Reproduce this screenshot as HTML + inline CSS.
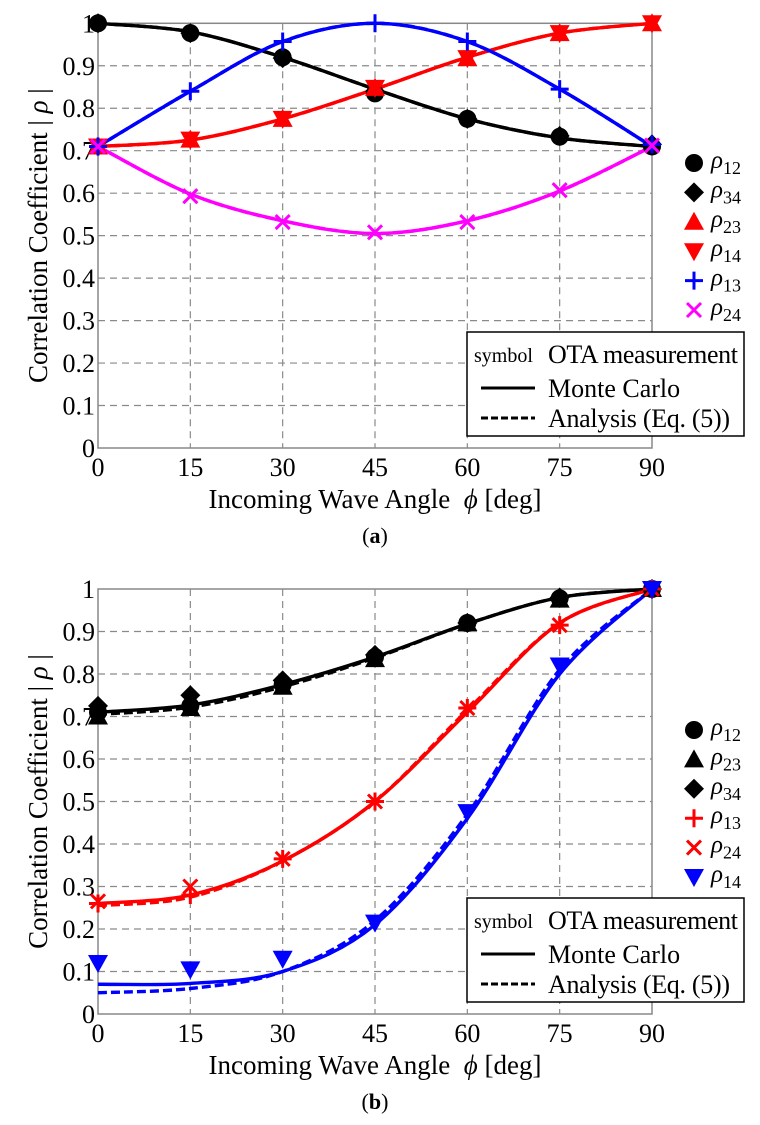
<!DOCTYPE html>
<html><head><meta charset="utf-8">
<style>
body{margin:0;background:#fff;}
svg{display:block;font-family:"Liberation Serif",serif;}
</style></head>
<body>
<svg id="fig" width="760" height="1125" viewBox="0 0 760 1125" xmlns="http://www.w3.org/2000/svg"></svg>
<script>
// ---------- data ----------
const angles = [0, 15, 30, 45, 60, 75, 90];
const yTicks = [0, 0.1, 0.2, 0.3, 0.4, 0.5, 0.6, 0.7, 0.8, 0.9, 1];
const yTickLabels = ["0","0.1","0.2","0.3","0.4","0.5","0.6","0.7","0.8","0.9","1"];
const xTickLabels = ["0","15","30","45","60","75","90"];

// panel (a)
const aRho12 = [1.0, 0.977, 0.92, 0.835, 0.775, 0.733, 0.71];
const aRho34 = [1.0, 0.977, 0.918, 0.84, 0.775, 0.735, 0.715];
const aRho23 = [0.71, 0.726, 0.775, 0.848, 0.918, 0.977, 1.0];
const aRho14 = [0.71, 0.726, 0.775, 0.848, 0.918, 0.977, 1.0];
const aRho13 = [0.71, 0.84, 0.957, 1.0, 0.957, 0.845, 0.715];
const aRho24 = [0.71, 0.593, 0.532, 0.508, 0.532, 0.607, 0.712];
const aMcBlack = [1.0, 0.98, 0.92, 0.845, 0.775, 0.73, 0.71];
const aMcRed = [0.71, 0.725, 0.775, 0.845, 0.92, 0.977, 1.0];
const aMcBlue = [0.71, 0.84, 0.957, 1.0, 0.957, 0.845, 0.71];
const aMcMag = [0.71, 0.598, 0.535, 0.505, 0.535, 0.605, 0.71];

// panel (b)
const bRho12 = [0.71, 0.725, 0.775, 0.84, 0.92, 0.978, 1.0];
const bRho23 = [0.70, 0.72, 0.77, 0.835, 0.92, 0.975, 1.0];
const bRho34 = [0.725, 0.75, 0.785, 0.845, 0.92, 0.98, 1.0];
const bRho13 = [0.26, 0.28, 0.365, 0.50, 0.72, 0.915, 1.0];
const bRho24 = [0.265, 0.30, 0.365, 0.50, 0.72, 0.915, 1.0];
const bRho14 = [0.12, 0.105, 0.13, 0.215, 0.475, 0.82, 1.0];
const bMcBlack = [0.71, 0.727, 0.775, 0.84, 0.918, 0.98, 1.0];
const bAnBlack = [0.705, 0.722, 0.77, 0.838, 0.918, 0.98, 1.0];
const bMcRed = [0.26, 0.28, 0.36, 0.50, 0.71, 0.92, 1.0];
const bAnRed = [0.255, 0.275, 0.36, 0.50, 0.715, 0.92, 1.0];
const bMcBlue = [0.07, 0.072, 0.10, 0.21, 0.46, 0.80, 1.0];
const bAnBlue = [0.05, 0.06, 0.10, 0.22, 0.47, 0.81, 1.0];

// ---------- drawing ----------
const NS = "http://www.w3.org/2000/svg";
const svg = document.getElementById("fig");
function mk(tag, attrs, parent) {
  const e = document.createElementNS(NS, tag);
  for (const k in attrs) e.setAttribute(k, attrs[k]);
  (parent || svg).appendChild(e);
  return e;
}
function txt(x, y, s, size, anchor, parent) {
  const t = mk("text", {x: x, y: y, "font-size": size, "text-anchor": anchor || "middle"}, parent);
  t.textContent = s;
  return t;
}
function rho(x, y, sub, parent) {
  const t = mk("text", {x: x, y: y, "font-size": 25}, parent);
  const a = document.createElementNS(NS, "tspan");
  a.setAttribute("font-style", "italic");
  a.textContent = "ρ";
  t.appendChild(a);
  const b = document.createElementNS(NS, "tspan");
  b.setAttribute("font-size", "18");
  b.setAttribute("dy", "6");
  b.textContent = sub;
  t.appendChild(b);
  return t;
}
function marker(type, cx, cy, color, g) {
  let e;
  if (type === "circle") e = mk("circle", {cx: cx, cy: cy, r: 9, fill: color}, g);
  else if (type === "diamond") e = mk("polygon", {points: `${cx},${cy-10} ${cx+10},${cy} ${cx},${cy+10} ${cx-10},${cy}`, fill: color}, g);
  else if (type === "up") e = mk("polygon", {points: `${cx},${cy-10} ${cx+10},${cy+8} ${cx-10},${cy+8}`, fill: color}, g);
  else if (type === "down") e = mk("polygon", {points: `${cx},${cy+10} ${cx+10},${cy-8} ${cx-10},${cy-8}`, fill: color}, g);
  else if (type === "plus") e = mk("path", {d: `M${cx-9},${cy}H${cx+9}M${cx},${cy-9}V${cy+9}`, stroke: color, "stroke-width": 3}, g);
  else e = mk("path", {d: `M${cx-7},${cy-7}L${cx+7},${cy+7}M${cx+7},${cy-7}L${cx-7},${cy+7}`, stroke: color, "stroke-width": 3}, g);
  return e;
}
function smoothPath(pts) {
  let d = `M${pts[0][0]},${pts[0][1]}`;
  for (let i = 0; i < pts.length - 1; i++) {
    const p0 = pts[Math.max(0, i-1)], p1 = pts[i], p2 = pts[i+1], p3 = pts[Math.min(pts.length-1, i+2)];
    const c1x = p1[0] + (p2[0]-p0[0])/6, c1y = p1[1] + (p2[1]-p0[1])/6;
    const c2x = p2[0] - (p3[0]-p1[0])/6, c2y = p2[1] - (p3[1]-p1[1])/6;
    d += ` C${c1x},${c1y} ${c2x},${c2y} ${p2[0]},${p2[1]}`;
  }
  return d;
}

function panel(cfg) {
  const X0 = 98, X1 = 652, Ytop = cfg.top, Ybot = cfg.bot;
  const xs = v => X0 + (v / 90) * (X1 - X0);
  const ys = v => Ybot - v * (Ybot - Ytop);
  const g = mk("g", {});
  
  
  yTicks.forEach((t, i) => {
    if (i > 0 && i < yTicks.length - 1) {
      const l = mk("line", {x1: X0, x2: X1, y1: ys(t), y2: ys(t), stroke: "#8a8a8a", "stroke-width": 1.2, "stroke-dasharray": "7,5"}, g);
      
      
    }
    const tl = txt(X0 - 3, ys(t) + 9, yTickLabels[i], 26, "end", g);
    
    
  });
  angles.forEach((a, i) => {
    if (i > 0 && i < angles.length - 1) {
      const l = mk("line", {x1: xs(a), x2: xs(a), y1: Ytop, y2: Ybot, stroke: "#8a8a8a", "stroke-width": 1.2, "stroke-dasharray": "7,5"}, g);
      
      
    }
    const tl = txt(xs(a), Ybot + 28, xTickLabels[i], 26, "middle", g);
    
    
  });
  const box = mk("rect", {x: X0, y: Ytop, width: X1 - X0, height: Ybot - Ytop, fill: "none", stroke: "#888", "stroke-width": 1.5}, g);
  
  
  cfg.curves.forEach(c => {
    const pts = angles.map((a, i) => [xs(a), ys(c.data[i])]);
    const p = mk("path", {d: smoothPath(pts), fill: "none", stroke: c.color, "stroke-width": 3.4}, g);
    if (c.dash) p.setAttribute("stroke-dasharray", "9,4");
    
    
  });
  cfg.series.forEach(s => {
    s.data.forEach((v, i) => {
      const m = marker(s.type, xs(angles[i]), ys(v), s.color, g);
      
      
    });
  });
  cfg.series.forEach((s, i) => {
    const cy = cfg.legTop + i * 29.4;
    const m = marker(s.type, 694, cy, s.color, g);
    
    
    const t = rho(711, cy + 5, s.sub, g);
    
    
  });
  const lb = cfg.boxTop;
  const r = mk("rect", {x: 467, y: lb, width: 277, height: 104, fill: "#fff", stroke: "#000", "stroke-width": 1.5}, g);
  
  
  const t1 = txt(474, lb + 30, "symbol", 20, "start", g);
  
  
  const t2 = txt(548, lb + 31, "OTA measurement", 26, "start", g);
  t2.setAttribute('textLength', '190');
  
  
  const l1 = mk("line", {x1: 481, x2: 535, y1: lb + 56, y2: lb + 56, stroke: "#000", "stroke-width": 3}, g);
  
  
  const t3 = txt(548, lb + 65, "Monte Carlo", 26, "start", g);
  
  
  const l2 = mk("line", {x1: 481, x2: 535, y1: lb + 86, y2: lb + 86, stroke: "#000", "stroke-width": 3, "stroke-dasharray": "7,3"}, g);
  
  
  const t4 = txt(548, lb + 95, "Analysis (Eq. (5))", 26, "start", g);
  t4.setAttribute('textLength', '182');
  
  
  const xt = mk("text", {x: 375, y: Ybot + 60, "font-size": 27, "text-anchor": "middle"}, g);
  xt.innerHTML = 'Incoming Wave Angle &#160;<tspan font-style="italic">ϕ</tspan> [deg]';
  
  
  const cyT = (Ytop + Ybot) / 2;
  const yt = mk("text", {x: 0, y: 0, "font-size": 27, "text-anchor": "middle", transform: `translate(47,${cyT}) rotate(-90)`}, g);
  yt.innerHTML = 'Correlation Coefficient | <tspan font-style="italic">ρ</tspan> |';
  
  
  const cap = mk("text", {x: 375, y: Ybot + 95, "font-size": 22, "text-anchor": "middle"}, g);
  cap.innerHTML = '(<tspan font-weight="bold">' + cfg.letter + '</tspan>)';
  
  
}

panel({
  name: "panel-a", letter: "a", top: 23.3, bot: 448, legTop: 163, boxTop: 332,
  curves: [
    {name: "mc-rho12-34", data: aMcBlack, color: "#000"},
    {name: "an-rho12-34", data: aMcBlack, color: "#000", dash: true},
    {name: "mc-rho23-14", data: aMcRed, color: "#f00"},
    {name: "an-rho23-14", data: aMcRed, color: "#f00", dash: true},
    {name: "mc-rho13", data: aMcBlue, color: "#00f"},
    {name: "an-rho13", data: aMcBlue, color: "#00f", dash: true},
    {name: "mc-rho24", data: aMcMag, color: "#f0f"},
    {name: "an-rho24", data: aMcMag, color: "#f0f", dash: true}
  ],
  series: [
    {name: "rho12", sub: "12", type: "circle", color: "#000", data: aRho12},
    {name: "rho34", sub: "34", type: "diamond", color: "#000", data: aRho34},
    {name: "rho23", sub: "23", type: "up", color: "#f00", data: aRho23},
    {name: "rho14", sub: "14", type: "down", color: "#f00", data: aRho14},
    {name: "rho13", sub: "13", type: "plus", color: "#00f", data: aRho13},
    {name: "rho24", sub: "24", type: "x", color: "#f0f", data: aRho24}
  ]
});
panel({
  name: "panel-b", letter: "b", top: 589, bot: 1014, legTop: 730, boxTop: 898,
  curves: [
    {name: "mc-black", data: bMcBlack, color: "#000"},
    {name: "an-black", data: bAnBlack, color: "#000", dash: true},
    {name: "mc-red", data: bMcRed, color: "#f00"},
    {name: "an-red", data: bAnRed, color: "#f00", dash: true},
    {name: "mc-blue", data: bMcBlue, color: "#00f"},
    {name: "an-blue", data: bAnBlue, color: "#00f", dash: true}
  ],
  series: [
    {name: "rho12", sub: "12", type: "circle", color: "#000", data: bRho12},
    {name: "rho23", sub: "23", type: "up", color: "#000", data: bRho23},
    {name: "rho34", sub: "34", type: "diamond", color: "#000", data: bRho34},
    {name: "rho13", sub: "13", type: "plus", color: "#f00", data: bRho13},
    {name: "rho24", sub: "24", type: "x", color: "#f0f".replace("f0f","f00"), data: bRho24},
    {name: "rho14", sub: "14", type: "down", color: "#00f", data: bRho14}
  ]
});
</script>
</body></html>
